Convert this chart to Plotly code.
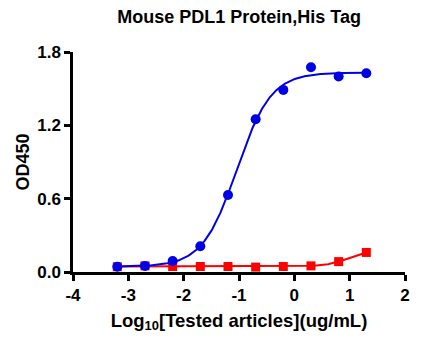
import numpy as np
import plotly.graph_objects as go

# Half-log dilution series, 20 ug/mL top concentration
log_conc = [1.301, 0.801, 0.301, -0.199, -0.699, -1.199, -1.699, -2.199, -2.699, -3.199]
od_pdl1 = [1.626, 1.600, 1.675, 1.490, 1.250, 0.630, 0.210, 0.090, 0.050, 0.043]
od_ctrl = [0.160, 0.085, 0.050, 0.045, 0.040, 0.045, 0.045, 0.045, 0.050, 0.043]

x_ticks = [-4, -3, -2, -1, 0, 1, 2]
x_tick_text = ["-4", "-3", "-2", "-1", "0", "1", "2"]
y_ticks = [0.0, 0.6, 1.2, 1.8]
y_tick_text = ["0.0", "0.6", "1.2", "1.8"]


def fit_4pl(x, y, hill_range=(0.5, 3.0)):
    """Four-parameter logistic fit: grid over (logEC50, hill), bottom/top by linear LSQ."""
    x = np.asarray(x, float)
    y = np.asarray(y, float)
    best = None
    for ec in np.linspace(-4, 4, 401):
        for h in np.linspace(hill_range[0], hill_range[1], 126):
            s = 1.0 / (1.0 + 10 ** ((ec - x) * h))
            A = np.vstack([np.ones_like(s), s]).T
            coef, *_ = np.linalg.lstsq(A, y, rcond=None)
            err = np.sum((A @ coef - y) ** 2)
            if best is None or err < best[0]:
                best = (err, ec, h, coef)
    _, ec, h, coef = best

    def f(xx):
        s = 1.0 / (1.0 + 10 ** ((ec - xx) * h))
        return coef[0] + coef[1] * s

    return f


xs = np.linspace(min(log_conc), max(log_conc), 300)
curve_pdl1 = fit_4pl(log_conc, od_pdl1)
curve_ctrl = fit_4pl(log_conc, od_ctrl)

blue = "#0000E6"
red = "#FF0000"

fig = go.Figure()
fig.add_trace(go.Scatter(x=xs, y=curve_ctrl(xs), mode="lines",
                         line=dict(color=red, width=2), cliponaxis=False,
                         showlegend=False, hoverinfo="skip"))
fig.add_trace(go.Scatter(x=log_conc, y=od_ctrl, mode="markers",
                         marker=dict(symbol="square", size=9, color=red),
                         cliponaxis=False, showlegend=False))
fig.add_trace(go.Scatter(x=xs, y=curve_pdl1(xs), mode="lines",
                         line=dict(color=blue, width=2), cliponaxis=False,
                         showlegend=False, hoverinfo="skip"))
fig.add_trace(go.Scatter(x=log_conc, y=od_pdl1, mode="markers",
                         marker=dict(symbol="circle", size=10, color=blue),
                         cliponaxis=False, showlegend=False))

font_family = "Liberation Sans, Arial, sans-serif"
axis_common = dict(showline=True, linecolor="black", linewidth=2.5,
                   ticks="outside", ticklen=6, tickwidth=2.5, tickcolor="black",
                   showgrid=False, zeroline=False,
                   tickfont=dict(family=font_family, size=17, color="black", weight="bold"))

fig.update_layout(
    width=421, height=347,
    margin=dict(l=73, r=16, t=52, b=75),
    paper_bgcolor="white", plot_bgcolor="white",
    title=dict(text="<b>Mouse PDL1 Protein,His Tag</b>", x=0.568, xanchor="center",
               y=0.953, yanchor="middle",
               font=dict(family=font_family, size=18, color="black")),
    xaxis=dict(range=[-4, 2], tickvals=x_ticks, ticktext=x_tick_text, **axis_common,
               title=dict(text="<b>Log<sub>10</sub>[Tested articles](ug/mL)</b>",
                          font=dict(family=font_family, size=18.5, color="black"),
                          standoff=10)),
    yaxis=dict(range=[0, 1.8], tickvals=y_ticks, ticktext=y_tick_text, **axis_common,
               title=dict(text="<b>OD450</b>",
                          font=dict(family=font_family, size=18, color="black"),
                          standoff=3)),
)

fig.write_html("out.html")
